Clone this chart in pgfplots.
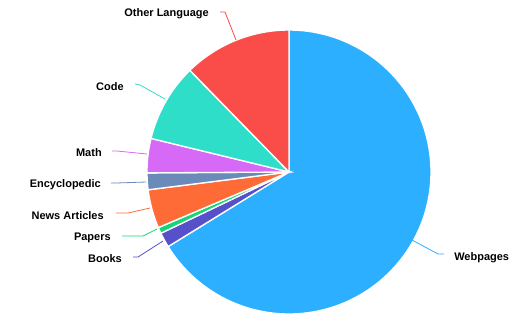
\documentclass[border=0pt]{standalone}
\usepackage{pgfplots}
\pgfplotsset{compat=1.18}
\usepackage{fontspec}
\setmainfont{Liberation Sans}
\definecolor{cWeb}{RGB}{45,175,255}
\definecolor{cBooks}{RGB}{86,80,202}
\definecolor{cPapers}{RGB}{22,212,120}
\definecolor{cNews}{RGB}{255,107,55}
\definecolor{cEnc}{RGB}{106,139,186}
\definecolor{cMath}{RGB}{214,105,245}
\definecolor{cCode}{RGB}{46,222,200}
\definecolor{cOther}{RGB}{250,76,72}
% slice shares in percent, clockwise from 12 o'clock
\def\vWeb{66.2}\def\vBooks{1.7}\def\vPapers{0.7}\def\vNews{4.4}
\def\vEnc{1.9}\def\vMath{3.9}\def\vCode{8.9}\def\vOther{12.3}
\begin{document}
\begin{tikzpicture}
\pgfmathsetmacro{\aA}{90}
\pgfmathsetmacro{\aB}{\aA-3.6*\vWeb}
\pgfmathsetmacro{\aC}{\aB-3.6*\vBooks}
\pgfmathsetmacro{\aD}{\aC-3.6*\vPapers}
\pgfmathsetmacro{\aE}{\aD-3.6*\vNews}
\pgfmathsetmacro{\aF}{\aE-3.6*\vEnc}
\pgfmathsetmacro{\aG}{\aF-3.6*\vMath}
\pgfmathsetmacro{\aH}{\aG-3.6*\vCode}
\pgfmathsetmacro{\aI}{\aH-3.6*\vOther}
\begin{axis}[
  x=0.75pt, y=0.75pt, y dir=reverse,
  xmin=0, xmax=532, ymin=0, ymax=330,
  hide axis, clip=false, scale only axis,
]
\path (axis cs:0,0) rectangle (axis cs:532,330);
\addplot[fill=cWeb, draw=white, line width=1pt, domain=\aB:\aA, samples=120] ({289+142*cos(x)},{172-142*sin(x)}) -- (axis cs:289,172) -- cycle;
\addplot[fill=cBooks, draw=white, line width=1pt, domain=\aC:\aB, samples=10] ({289+142*cos(x)},{172-142*sin(x)}) -- (axis cs:289,172) -- cycle;
\addplot[fill=cPapers, draw=white, line width=1pt, domain=\aD:\aC, samples=6] ({289+142*cos(x)},{172-142*sin(x)}) -- (axis cs:289,172) -- cycle;
\addplot[fill=cNews, draw=white, line width=1pt, domain=\aE:\aD, samples=15] ({289+142*cos(x)},{172-142*sin(x)}) -- (axis cs:289,172) -- cycle;
\addplot[fill=cEnc, draw=white, line width=1pt, domain=\aF:\aE, samples=10] ({289+142*cos(x)},{172-142*sin(x)}) -- (axis cs:289,172) -- cycle;
\addplot[fill=cMath, draw=white, line width=1pt, domain=\aG:\aF, samples=15] ({289+142*cos(x)},{172-142*sin(x)}) -- (axis cs:289,172) -- cycle;
\addplot[fill=cCode, draw=white, line width=1pt, domain=\aH:\aG, samples=25] ({289+142*cos(x)},{172-142*sin(x)}) -- (axis cs:289,172) -- cycle;
\addplot[fill=cOther, draw=white, line width=1pt, domain=\aI:\aH, samples=30] ({289+142*cos(x)},{172-142*sin(x)}) -- (axis cs:289,172) -- cycle;
% leader lines
\addplot[cOther, line width=0.6pt] coordinates {(220,12) (225,12) (236,40)};
\addplot[cCode, line width=0.6pt] coordinates {(135,84) (140,85) (165,99)};
\addplot[cMath, line width=0.6pt] coordinates {(112,151) (117,151) (147,154)};
\addplot[cEnc, line width=0.6pt] coordinates {(111,183) (116,183) (146,182)};
\addplot[cNews, line width=0.6pt] coordinates {(116,213) (128,213) (150,208)};
\addplot[cPapers, line width=0.6pt] coordinates {(122,236) (143,236) (157,229)};
\addplot[cBooks, line width=0.6pt] coordinates {(133,257) (138,257) (163,241)};
\addplot[cWeb, line width=0.6pt] coordinates {(412,240) (438,254) (444,254)};
% labels
\begin{scope}[every node/.style={font=\fontsize{8.25}{10}\selectfont\bfseries, inner sep=0pt}]
\node[anchor=east] at (axis cs:209,14) {Other Language};
\node[anchor=east] at (axis cs:124,87) {Code};
\node[anchor=east] at (axis cs:102,153) {Math};
\node[anchor=east] at (axis cs:101,185) {Encyclopedic};
\node[anchor=east] at (axis cs:104,216) {News Articles};
\node[anchor=east] at (axis cs:111,238) {Papers};
\node[anchor=east] at (axis cs:122,259) {Books};
\node[anchor=west] at (axis cs:454,258) {Webpages};
\end{scope}
\end{axis}
\end{tikzpicture}
\end{document}
